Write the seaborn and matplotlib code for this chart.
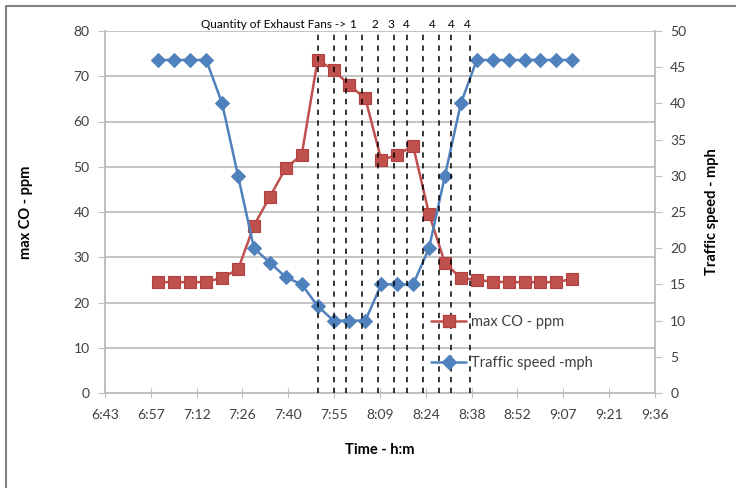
import matplotlib
matplotlib.use("Agg")
import matplotlib.pyplot as plt
import matplotlib.transforms as mtransforms
from matplotlib.lines import Line2D
import seaborn as sns
import pandas as pd

# sample times (h:m) and the two measured series
times = ["7:00", "7:05", "7:10", "7:15", "7:20", "7:25", "7:30", "7:35", "7:40",
         "7:45", "7:50", "7:55", "8:00", "8:05", "8:10", "8:15", "8:20", "8:25",
         "8:30", "8:35", "8:40", "8:45", "8:50", "8:55", "9:00", "9:05", "9:10"]
max_co = [24.5, 24.5, 24.5, 24.5, 25.5, 27.3, 37.0, 43.4, 49.7, 52.6, 73.6, 71.4,
          68.0, 65.1, 51.5, 52.6, 54.6, 39.6, 28.7, 25.4, 25.0, 24.6, 24.5, 24.5,
          24.5, 24.5, 25.2]
speed = [46, 46, 46, 46, 40, 30, 20, 18, 16, 15, 12, 10, 10, 10, 15, 15, 15, 20,
         30, 40, 46, 46, 46, 46, 46, 46, 46]

# exhaust fan switching marks
fan_line_times = ["7:50", "7:55", "7:59", "8:04", "8:09", "8:14", "8:18",
                  "8:23", "8:28", "8:32", "8:38"]
fan_counts = ["1", "2", "3", "4", "4", "4", "4"]
fan_label_times = ["8:01", "8:08", "8:13", "8:18", "8:26", "8:32", "8:37"]

x_ticks = [0.28, 0.29, 0.30, 0.31, 0.32, 0.33, 0.34, 0.35, 0.36, 0.37, 0.38, 0.39, 0.40]
x_tick_labels = ["6:43", "6:57", "7:12", "7:26", "7:40", "7:55", "8:09", "8:24",
                 "8:38", "8:52", "9:07", "9:21", "9:36"]


def day_frac(s):
    h, m = s.split(":")
    return (int(h) * 60 + int(m)) / 1440.0


df = pd.DataFrame({"t": [day_frac(t) for t in times], "co": max_co, "speed": speed})

RED = "#C0504D"
BLUE = "#4F81BD"
GRID = "#BFBFBF"
TXT = "#404040"

sns.set_style("white")
plt.rcParams["font.family"] = ["Lato", "DejaVu Sans"]
plt.rcParams["font.size"] = 9

fig = plt.figure(figsize=(7.36, 4.88), dpi=100)
ax = fig.add_axes([105 / 736, 1 - 393 / 488, 550 / 736, 362 / 488])
ax2 = ax.twinx()

sns.lineplot(data=df, x="t", y="co", ax=ax, color=RED, marker="s", markersize=9,
             linewidth=1.8, markeredgecolor="#B0413E", markeredgewidth=0.8, zorder=3)
sns.lineplot(data=df, x="t", y="speed", ax=ax2, color=BLUE, marker="D", markersize=7.5,
             linewidth=1.8, markeredgecolor=BLUE, zorder=3)

for t in fan_line_times:
    ax2.axvline(day_frac(t), color="black", linestyle=(0, (3.5, 3.5)), linewidth=1.1, zorder=4)

trans = mtransforms.blended_transform_factory(ax.transData, ax.transAxes)
ax.text(day_frac("7:59"), 1.019, "Quantity of Exhaust Fans ->", transform=trans,
        ha="right", va="center", fontsize=8.5, color="black", clip_on=False)
for t, n in zip(fan_label_times, fan_counts):
    ax.text(day_frac(t), 1.019, n, transform=trans, ha="center", va="center",
            fontsize=8.5, color="black", clip_on=False)

ax.set_xlim(0.28, 0.40)
ax.set_xticks(x_ticks)
ax.set_xticklabels(x_tick_labels)
ax.set_ylim(0, 80)
ax.set_yticks(range(0, 81, 10))
ax2.set_ylim(0, 50)
ax2.set_yticks(range(0, 51, 5))

ax.yaxis.grid(True, color=GRID, linewidth=1.3)
ax.xaxis.grid(False)
ax2.grid(False)
ax.set_axisbelow(True)

for a in (ax, ax2):
    for side in ("left", "right", "bottom"):
        a.spines[side].set_color(GRID)
        a.spines[side].set_linewidth(1.2)
    a.spines["top"].set_visible(False)

ax.tick_params(axis="y", direction="out", length=5, color=GRID, labelcolor=TXT,
               labelsize=10, left=True, pad=6)
ax.tick_params(axis="x", direction="inout", length=7, color=GRID, labelcolor=TXT,
               labelsize=10, bottom=True, pad=8)
ax2.tick_params(axis="y", direction="out", length=5, color=GRID, labelcolor=TXT,
                labelsize=10, right=True, pad=6)

ax.set_xlabel("Time - h:m", fontweight="bold", fontsize=10.5, color="black")
ax.set_ylabel("max CO - ppm", fontweight="bold", fontsize=10.5, color="black")
ax2.set_ylabel("Traffic speed - mph", fontweight="bold", fontsize=10.5, color="black")
ax.xaxis.set_label_coords(0.5, -0.138)
ax.yaxis.set_label_coords(-0.131, 0.5)
ax2.yaxis.set_label_coords(1.091, 0.5)

for a in (ax, ax2):
    if a.get_legend() is not None:
        a.get_legend().remove()

handles = [
    Line2D([], [], color=RED, marker="s", markersize=9, linewidth=1.8,
           markeredgecolor="#B0413E", label="max CO - ppm"),
    Line2D([], [], color=BLUE, marker="D", markersize=7.5, linewidth=1.8,
           label="Traffic speed -mph"),
]
leg = ax2.legend(handles=handles, loc="upper left", bbox_to_anchor=(0.58, 0.235),
                 frameon=False, fontsize=10.5, handlelength=2.4, handletextpad=0.3,
                 labelspacing=1.85, borderpad=0)
for txt in leg.get_texts():
    txt.set_color(TXT)

# outer frame (top and left edges visible in the original)
fig.add_artist(Line2D([6 / 736, 1], [1 - 6 / 488, 1 - 6 / 488], color="#808080",
                      linewidth=1.5, transform=fig.transFigure))
fig.add_artist(Line2D([6 / 736, 6 / 736], [0, 1 - 6 / 488], color="#808080",
                      linewidth=1.5, transform=fig.transFigure))

fig.savefig("out.png", dpi=100)
